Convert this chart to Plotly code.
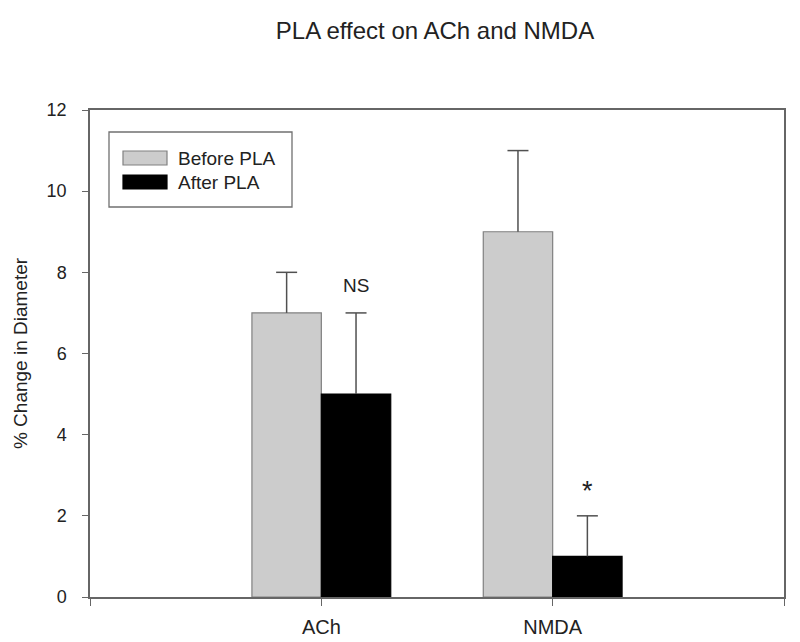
import plotly.graph_objects as go

categories = ["ACh", "NMDA"]
cat_pos = [1, 2]
series_names = ["Before PLA", "After PLA"]
before_vals = [7, 9]
before_err = [1, 2]
after_vals = [5, 1]
after_err = [2, 1]
y_ticks = [0, 2, 4, 6, 8, 10, 12]

W, H = 792, 634
L, R, T, B = 82, 16, 102, 45
pw, ph = W - L - R, H - T - B

bw = 0.3
fill_colors = ["#cccccc", "#000000"]
edge_colors = ["#808080", "#000000"]
err_color = "#505050"

fig = go.Figure()
for k, (vals, errs) in enumerate([(before_vals, before_err), (after_vals, after_err)]):
    off = -bw / 2 if k == 0 else bw / 2
    xs = [p + off for p in cat_pos]
    fig.add_trace(go.Bar(
        x=xs, y=vals, width=bw, name=series_names[k], showlegend=False,
        marker=dict(color=fill_colors[k], line=dict(color=edge_colors[k], width=1.2)),
    ))
    # upper-only error bars: stem + cap, drawn from the data
    lx, ly = [], []
    for x, v, e in zip(xs, vals, errs):
        lx += [x, x, None]
        ly += [v, v + e, None]
    fig.add_trace(go.Scatter(x=lx, y=ly, mode="lines", showlegend=False, hoverinfo="skip",
                             line=dict(color=err_color, width=1.5)))
    fig.add_trace(go.Scatter(x=xs, y=[v + e for v, e in zip(vals, errs)], mode="markers",
                             showlegend=False, hoverinfo="skip",
                             marker=dict(symbol="line-ew", size=15,
                                         line=dict(color=err_color, width=1.5))))

fig.add_annotation(x=cat_pos[0] + bw / 2, y=7.68, text="NS", showarrow=False,
                   font=dict(size=19, color="#222222"))
fig.add_annotation(x=cat_pos[1] + bw / 2, y=2.6, text="*", showarrow=False,
                   font=dict(size=27, color="#222222"))


def px_x(x):  # page pixel -> paper x
    return (x - 8 - L) / pw


def px_y(y):  # page pixel -> paper y
    return 1 - (y - 8 - T) / ph


# legend box (layout element)
shapes = [dict(type="rect", xref="paper", yref="paper",
               x0=px_x(109), x1=px_x(292), y0=px_y(207), y1=px_y(132),
               line=dict(color="#707070", width=1.3), fillcolor="white", layer="above")]
for k, (yt, yb, yc) in enumerate([(151, 165, 158), (175, 189, 182)]):
    shapes.append(dict(type="rect", xref="paper", yref="paper",
                       x0=px_x(123), x1=px_x(167), y0=px_y(yb), y1=px_y(yt),
                       line=dict(color=edge_colors[k], width=1.2),
                       fillcolor=fill_colors[k], layer="above"))
    fig.add_annotation(xref="paper", yref="paper", x=px_x(176), y=px_y(yc),
                       xanchor="left", yanchor="middle", text=series_names[k],
                       showarrow=False, font=dict(size=19, color="#222222"))

fig.update_layout(
    width=W, height=H,
    margin=dict(l=L, r=R, t=T, b=B, autoexpand=False),
    paper_bgcolor="white", plot_bgcolor="white",
    font=dict(family="Liberation Sans, Arial, sans-serif", size=19, color="#222222"),
    title=dict(text="PLA effect on ACh and NMDA", x=(435 - 8) / W, xanchor="center",
               y=1 - (31 - 8) / H, yanchor="middle", font=dict(size=24)),
    barmode="overlay",
    showlegend=False,
    shapes=shapes,
    xaxis=dict(range=[0, 3], tickmode="array", tickvals=[0, 1, 2, 3],
               ticktext=["", categories[0], categories[1], ""], automargin=False,
               showline=True, linecolor="#666666", linewidth=1.5, mirror=True,
               ticks="outside", ticklen=7, tickwidth=1.3, tickcolor="#666666", showgrid=False,
               zeroline=False, ticklabelstandoff=4, tickfont=dict(size=20)),
    yaxis=dict(range=[0, 12], tickmode="array", tickvals=y_ticks, automargin=False,
               title=dict(text="% Change in Diameter", standoff=14, font=dict(size=19)),
               showline=True, linecolor="#666666", linewidth=1.5, mirror=True,
               ticks="outside", ticklen=6, tickwidth=1.3, tickcolor="#666666", showgrid=False,
               zeroline=False, ticklabelstandoff=12, tickfont=dict(size=18)),
)

fig.write_html("out.html")
